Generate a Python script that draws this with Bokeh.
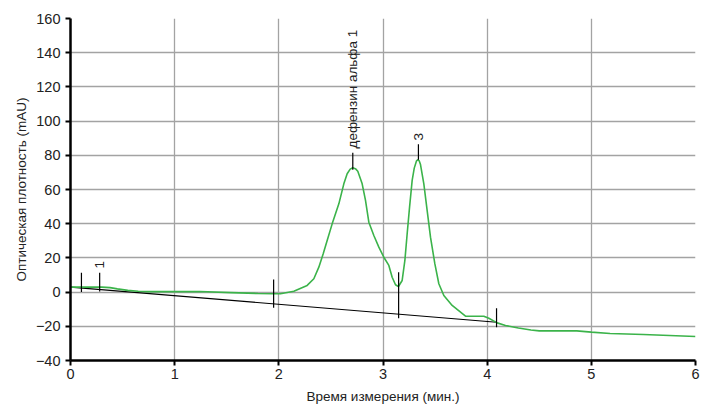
import math
from bokeh.plotting import figure
from bokeh.models import ColumnDataSource, FixedTicker, Range1d
from bokeh.core.properties import value
from bokeh.embed import file_html
from bokeh.resources import INLINE

# ---- data ----
time_min = [0.0, 0.30, 0.38, 0.45, 0.55, 0.65, 0.75, 1.24, 1.54, 1.80, 1.95, 2.016,
            2.144, 2.272, 2.336, 2.384, 2.426, 2.464, 2.512, 2.576, 2.624, 2.656, 2.685,
            2.71, 2.735, 2.758, 2.80, 2.832, 2.864, 2.912, 2.96, 3.008, 3.056, 3.088,
            3.12, 3.148, 3.184, 3.21, 3.232, 3.255, 3.28, 3.300, 3.322, 3.335, 3.348,
            3.36, 3.392, 3.424, 3.456, 3.498, 3.536, 3.584, 3.664, 3.792, 3.968, 4.016,
            4.096, 4.176, 4.30, 4.42, 4.50, 4.86, 5.00, 5.18, 5.50, 6.0]
absorbance = [2.9, 2.9, 2.6, 1.9, 1.0, 0.5, 0.3, 0.35, -0.3, -0.8, -1.0, -1.0,
              0.5, 3.9, 7.8, 14.6, 22.4, 30.2, 39.9, 51.6, 63.3, 69.2, 71.9,
              72.7, 72.2, 70.7, 63.3, 53.6, 40.9, 33.1, 26.3, 20.4, 15.6, 8.7,
              4.3, 3.3, 6.8, 18.5, 34.1, 49.7, 65.3, 72.5, 76.8, 77.4, 76.7,
              74.6, 63.3, 47.7, 32.1, 16.5, 4.9, -2.0, -7.8, -14.1, -14.1, -15.3,
              -18.0, -19.5, -21.0, -22.2, -22.7, -22.7, -23.4, -24.2, -24.8, -26.0]

baseline_x = [0.0, 4.09]
baseline_y = [2.9, -17.6]

marker_x = [0.105, 0.28, 1.95, 3.15, 4.09]
marker_top = [11.3, 11.3, 7.4, 11.6, -9.4]
marker_bottom = [0.0, 0.3, -9.2, -15.3, -20.5]

peak_x = [2.71, 3.34]
peak_tick_bottom = [71.5, 77.4]
peak_tick_top = [81.5, 86.5]

label_x = [0.283, 2.705, 3.34]
label_y = [13.8, 84.0, 88.6]
label_text = ["1", "дефензин альфа 1", "3"]

x_ticks = [0, 1, 2, 3, 4, 5, 6]
y_ticks = [-40, -20, 0, 20, 40, 60, 80, 100, 120, 140, 160]
y_tick_labels = ["\u221240", "\u221220", "0", "20", "40", "60", "80", "100", "120", "140", "160"]

FONT = "Liberation Sans"

p = figure(width=703, height=407, output_backend="svg", toolbar_location=None,
           x_range=Range1d(0, 6), y_range=Range1d(-40, 160),
           min_border_left=70, min_border_top=18, min_border_right=8, min_border_bottom=47)
p.outline_line_color = None
p.background_fill_color = "white"

# grid
for g in (p.xgrid, p.ygrid):
    g.grid_line_color = "#a3a3a3"
    g.grid_line_width = 1.3
p.xaxis.ticker = FixedTicker(ticks=x_ticks)
p.yaxis.ticker = FixedTicker(ticks=y_ticks)
p.yaxis.major_label_overrides = {t: l for t, l in zip(y_ticks, y_tick_labels)}

for ax in (p.xaxis[0], p.yaxis[0]):
    ax.axis_line_color = "black"
    ax.axis_line_width = 2.5
    ax.major_tick_line_color = "black"
    ax.major_tick_line_width = 2
    ax.major_tick_out = 5
    ax.major_tick_in = 0
    ax.minor_tick_line_color = None
    ax.major_label_text_font = FONT
    ax.major_label_text_font_size = "14.5px"
    ax.major_label_text_color = "#222222"
    ax.axis_label_text_font = FONT
    ax.axis_label_text_font_size = "13.5px"
    ax.axis_label_text_font_style = "normal"
    ax.axis_label_text_color = "#222222"

p.xaxis.axis_label = "Время измерения (мин.)"
p.yaxis.axis_label = "Оптическая плотность (mAU)"
p.xaxis.major_label_standoff = 3
p.xaxis.axis_label_standoff = 7
p.yaxis.major_label_standoff = 5
p.yaxis.axis_label_standoff = 4

# baseline
p.line(baseline_x, baseline_y, line_color="black", line_width=1.1)

# chromatogram
p.line(time_min, absorbance, line_color="#3bb34a", line_width=1.6)

# markers
p.segment(x0=marker_x, y0=marker_bottom, x1=marker_x, y1=marker_top,
          line_color="black", line_width=1.2)
p.segment(x0=peak_x, y0=peak_tick_bottom, x1=peak_x, y1=peak_tick_top,
          line_color="black", line_width=1.2)

src = ColumnDataSource(dict(x=label_x, y=label_y, t=label_text))
p.text(x="x", y="y", text="t", source=src, angle=math.pi / 2,
       text_align="left", text_baseline="middle",
       text_font=value(FONT), text_font_size="13.5px", text_color="#222222")

open("out.html", "w").write(file_html(p, INLINE))
